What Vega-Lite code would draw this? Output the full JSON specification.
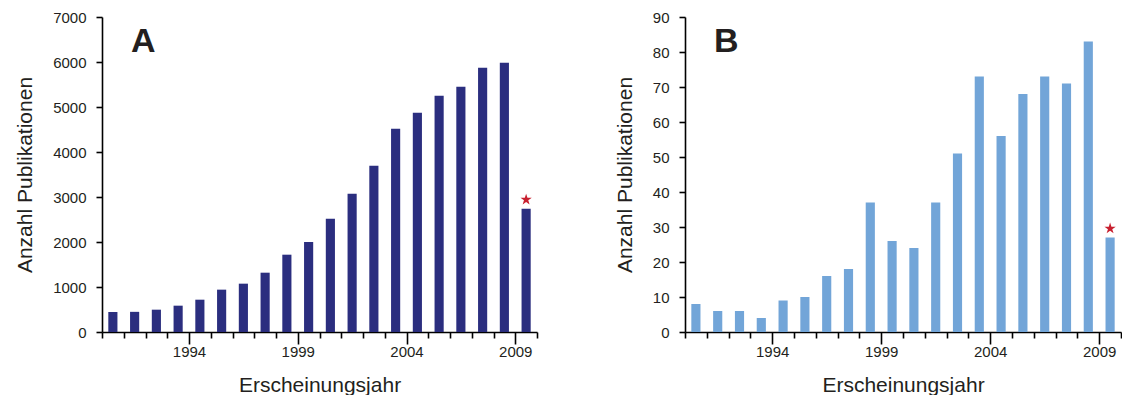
{
  "$schema": "https://vega.github.io/schema/vega-lite/v6.json",
  "padding": {"left": 14, "top": 10, "right": 0, "bottom": 0},
  "bounds": "flush",
  "spacing": 148,
  "config": {
    "view": {"stroke": null},
    "font": "Liberation Sans",
    "axis": {
      "grid": false,
      "domainColor": "#000000",
      "domainWidth": 1.6,
      "tickColor": "#000000",
      "tickWidth": 1.6,
      "labelFont": "Liberation Sans",
      "labelFontSize": 15,
      "labelColor": "#231f20",
      "titleFont": "Liberation Sans",
      "titleFontSize": 21,
      "titleFontWeight": "normal",
      "titleColor": "#231f20"
    },
    "title": {"font": "Liberation Sans"}
  },
  "datasets": {
    "a": [
      {"year": 1990, "count": 445},
      {"year": 1991, "count": 448},
      {"year": 1992, "count": 496},
      {"year": 1993, "count": 585},
      {"year": 1994, "count": 718},
      {"year": 1995, "count": 941},
      {"year": 1996, "count": 1074},
      {"year": 1997, "count": 1318},
      {"year": 1998, "count": 1718},
      {"year": 1999, "count": 2000},
      {"year": 2000, "count": 2518},
      {"year": 2001, "count": 3074},
      {"year": 2002, "count": 3696},
      {"year": 2003, "count": 4519},
      {"year": 2004, "count": 4874},
      {"year": 2005, "count": 5252},
      {"year": 2006, "count": 5452},
      {"year": 2007, "count": 5874},
      {"year": 2008, "count": 5985},
      {"year": 2009, "count": 2741, "note": "*"}
    ],
    "b": [
      {"year": 1990, "count": 8},
      {"year": 1991, "count": 6},
      {"year": 1992, "count": 6},
      {"year": 1993, "count": 4},
      {"year": 1994, "count": 9},
      {"year": 1995, "count": 10},
      {"year": 1996, "count": 16},
      {"year": 1997, "count": 18},
      {"year": 1998, "count": 37},
      {"year": 1999, "count": 26},
      {"year": 2000, "count": 24},
      {"year": 2001, "count": 37},
      {"year": 2002, "count": 51},
      {"year": 2003, "count": 73},
      {"year": 2004, "count": 56},
      {"year": 2005, "count": 68},
      {"year": 2006, "count": 73},
      {"year": 2007, "count": 71},
      {"year": 2008, "count": 83},
      {"year": 2009, "count": 27, "note": "*"}
    ]
  },
  "hconcat": [
    {
      "width": 435,
      "height": 315,
      "data": {"name": "a"},
      "title": {"text": "A", "anchor": "start", "frame": "group", "fontSize": 34, "fontWeight": "bold", "color": "#231f20", "baseline": "alphabetic", "offset": 0, "dx": 29, "dy": 76},
      "encoding": {
        "x": {
          "field": "year", "type": "ordinal",
          "scale": {"paddingInner": 0, "paddingOuter": 0},
          "axis": {
            "title": "Erscheinungsjahr",
            "tickBand": "extent",
            "labelAngle": 0,
            "labelOffset": -10.875,
            "labelPadding": 6,
            "labelExpr": "datum.value % 5 == 4 ? datum.label : ''",
            "tickSize": {"condition": {"test": "datum.value % 5 == 3", "value": 12}, "value": 6},
            "titlePadding": 9
          }
        },
        "y": {
          "field": "count", "type": "quantitative",
          "scale": {"domain": [0, 7000], "nice": false},
          "axis": {"title": "Anzahl Publikationen", "format": "d", "values": [0, 1000, 2000, 3000, 4000, 5000, 6000, 7000], "tickSize": 6, "labelPadding": 10, "titlePadding": 17}
        }
      },
      "layer": [
        {"mark": {"type": "bar", "width": {"band": 0.42}, "color": "#2b2e7f"}},
        {
          "transform": [{"filter": "datum.note == '*'"}],
          "mark": {"type": "point", "filled": true, "color": "#c8202f", "opacity": 1, "size": 140, "yOffset": -9,
            "shape": "M0,-1L0.2245,-0.309L0.951,-0.309L0.363,0.118L0.588,0.809L0,0.382L-0.588,0.809L-0.363,0.118L-0.951,-0.309L-0.2245,-0.309Z"}
        }
      ]
    },
    {
      "width": 436,
      "height": 315,
      "data": {"name": "b"},
      "title": {"text": "B", "anchor": "start", "frame": "group", "fontSize": 34, "fontWeight": "bold", "color": "#231f20", "baseline": "alphabetic", "offset": 0, "dx": 29, "dy": 76},
      "encoding": {
        "x": {
          "field": "year", "type": "ordinal",
          "scale": {"paddingInner": 0, "paddingOuter": 0},
          "axis": {
            "title": "Erscheinungsjahr",
            "tickBand": "extent",
            "labelAngle": 0,
            "labelOffset": -10.9,
            "labelPadding": 6,
            "labelExpr": "datum.value % 5 == 4 ? datum.label : ''",
            "tickSize": {"condition": {"test": "datum.value % 5 == 3", "value": 12}, "value": 6},
            "titlePadding": 9
          }
        },
        "y": {
          "field": "count", "type": "quantitative",
          "scale": {"domain": [0, 90], "nice": false},
          "axis": {"title": "Anzahl Publikationen", "format": "d", "values": [0, 10, 20, 30, 40, 50, 60, 70, 80, 90], "tickSize": 6, "labelPadding": 10, "titlePadding": 17}
        }
      },
      "layer": [
        {"mark": {"type": "bar", "width": {"band": 0.42}, "color": "#72a5d8"}},
        {
          "transform": [{"filter": "datum.note == '*'"}],
          "mark": {"type": "point", "filled": true, "color": "#c8202f", "opacity": 1, "size": 140, "yOffset": -9,
            "shape": "M0,-1L0.2245,-0.309L0.951,-0.309L0.363,0.118L0.588,0.809L0,0.382L-0.588,0.809L-0.363,0.118L-0.951,-0.309L-0.2245,-0.309Z"}
        }
      ]
    }
  ]
}
